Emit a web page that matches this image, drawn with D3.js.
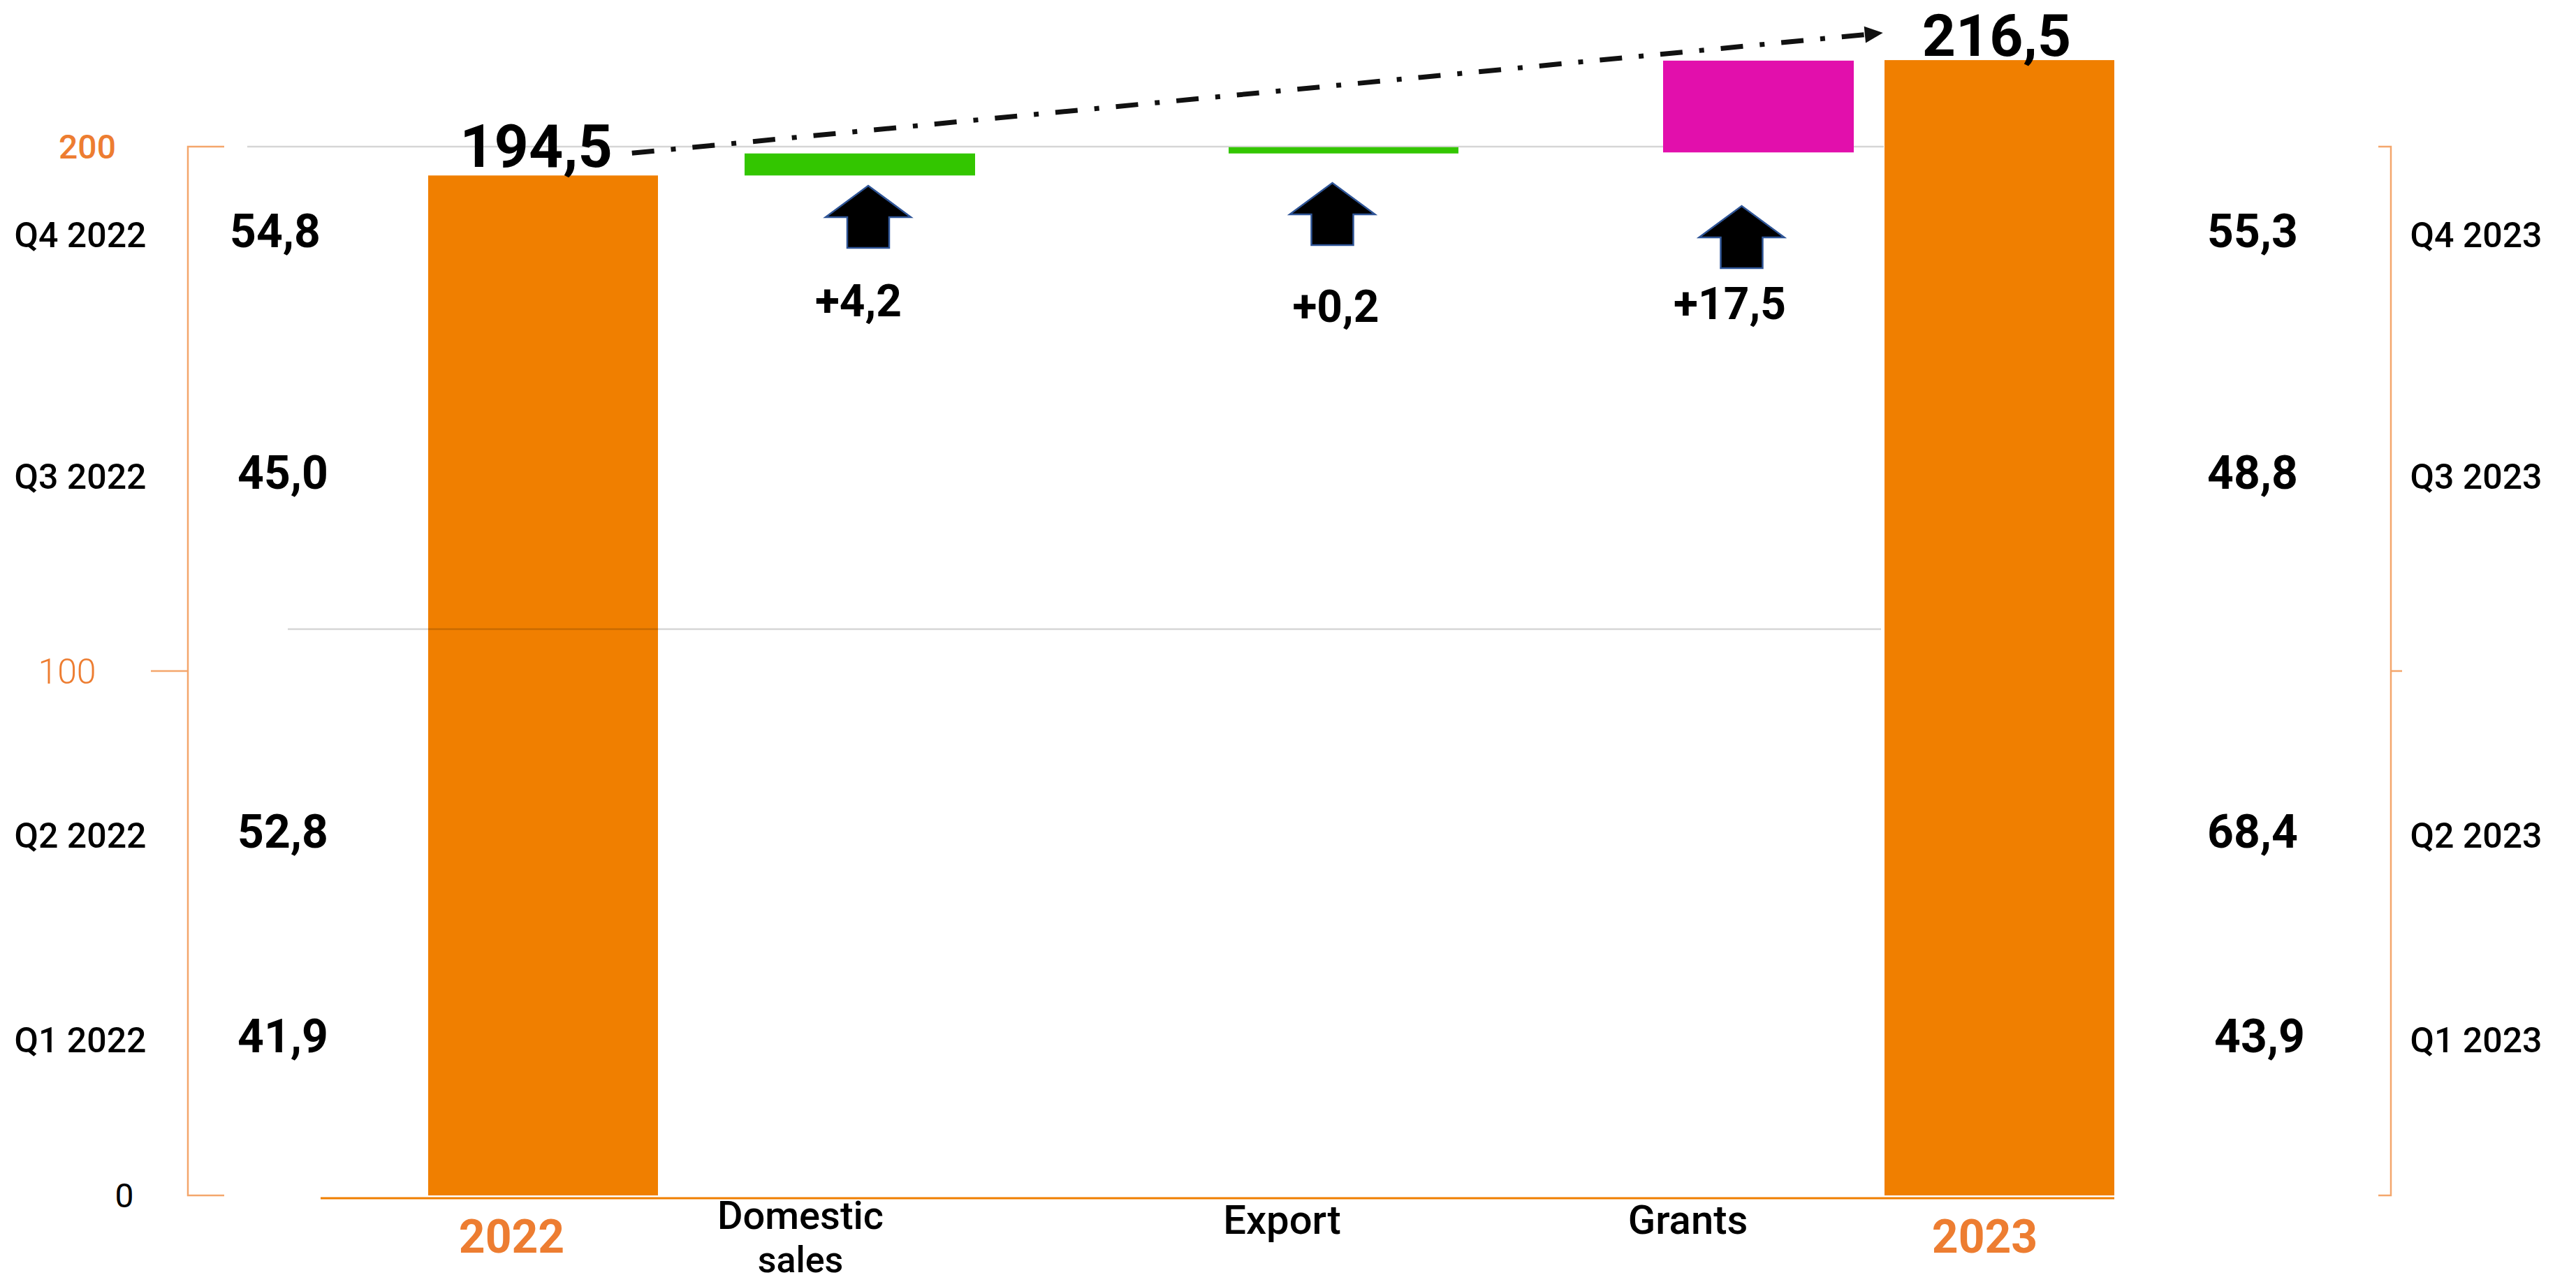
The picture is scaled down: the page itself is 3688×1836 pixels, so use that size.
<!DOCTYPE html>
<html><head><meta charset="utf-8">
<script src="https://cdn.jsdelivr.net/npm/d3@7"></script>
<style>
body{margin:0;background:#fff}
svg{display:block;background:#fff}
text{font-family:Roboto,"Noto Sans","DejaVu Sans",sans-serif}
</style>
</head><body>
<svg id="chart" width="3688" height="1836"></svg>
<script>
// ---------------- DATA ----------------
const categories = ["2022", "Domestic sales", "Export", "Grants", "2023"];
const startTotal = 194.5;
const endTotal = 216.5;
const changeCategories = ["Domestic sales", "Export", "Grants"];
const changeValues = [4.2, 0.2, 17.5];
const quarters2022 = ["Q1 2022", "Q2 2022", "Q3 2022", "Q4 2022"];
const quarterValues2022 = [41.9, 52.8, 45.0, 54.8];
const quarters2023 = ["Q1 2023", "Q2 2023", "Q3 2023", "Q4 2023"];
const quarterValues2023 = [43.9, 68.4, 48.8, 55.3];
const yTicks = [0, 100, 200];
const gridValues = [108, 200];

// ---------------- LAYOUT ----------------
const W = 3688, H = 1836;
const svg = d3.select("#chart");
const y = d3.scaleLinear().domain([0, 200]).range([1712, 210]);
const x = d3.scaleLinear().domain(d3.range(categories.length)).range([777.5, 1231, 1923.5, 2517.5, 2862.5]);
const barW = d3.scaleOrdinal().domain(categories).range([329, 330, 329, 273, 329]);
const cx = c => x(categories.indexOf(c));

const fmt = d3.formatLocale({decimal: ",", thousands: " ", grouping: [3], currency: ["", ""]});
const f1 = fmt.format(".1f");
const fp = fmt.format("+.1f");

const ORANGE = "#F07F00", ORANGE_TXT = "#ED7D31", BRACKET = "#F4A66C";
const GREEN = "#33C600", PINK = "#E20FAC";

// waterfall records
let run = startTotal;
const bars = [{cat: "2022", y0: 0, y1: startTotal, color: ORANGE}];
changeCategories.forEach((c, i) => {
  const v = changeValues[i];
  bars.push({cat: c, y0: run, y1: run + v, color: c === "Grants" ? PINK : GREEN, change: v});
  run += v;
});
bars.push({cat: "2023", y0: 0, y1: endTotal, color: ORANGE});

// ---------------- GRID (under bars) ----------------
svg.append("line")
  .attr("x1", 354).attr("x2", 2697)
  .attr("y1", y(gridValues[1])).attr("y2", y(gridValues[1]))
  .attr("stroke", "#d6d6d6").attr("stroke-width", 2.5);

// ---------------- BARS ----------------
const minH = 9;
svg.append("g").selectAll("rect").data(bars).join("rect")
  .attr("x", d => cx(d.cat) - barW(d.cat) / 2)
  .attr("width", d => barW(d.cat))
  .attr("y", d => {
    const top = y(Math.max(d.y0, d.y1)), bot = y(Math.min(d.y0, d.y1));
    return (bot - top < minH) ? bot - minH : top;
  })
  .attr("height", d => Math.max(minH, Math.abs(y(d.y0) - y(d.y1))))
  .attr("fill", d => d.color);

// lower gridline drawn over the 2022 bar
svg.append("line")
  .attr("x1", 412).attr("x2", 2693)
  .attr("y1", y(gridValues[0])).attr("y2", y(gridValues[0]))
  .attr("stroke", "rgba(0,0,0,0.16)").attr("stroke-width", 2.5);

// orange baseline
svg.append("line")
  .attr("x1", 459).attr("x2", 3027)
  .attr("y1", y(0) + 4).attr("y2", y(0) + 4)
  .attr("stroke", ORANGE).attr("stroke-width", 3);

// ---------------- BRACKET AXES ----------------
const bL = 269, bR = 3423;
svg.append("path")
  .attr("d", `M321,${y(200)}H${bL}V${y(0)}H321M${bL},${y(100)}H216`)
  .attr("fill", "none").attr("stroke", BRACKET).attr("stroke-width", 2.5);
svg.append("path")
  .attr("d", `M3405,${y(200)}H${bR}V${y(0)}H3405M${bR},${y(100)}H3439`)
  .attr("fill", "none").attr("stroke", BRACKET).attr("stroke-width", 2.5);

const tickStyle = {
  0:   {x: 178, fill: "#000", weight: 400, size: 48},
  100: {x: 96,  fill: ORANGE_TXT, weight: 300, size: 50},
  200: {x: 125, fill: ORANGE_TXT, weight: 500, size: 48}
};
svg.append("g").selectAll("text").data(yTicks).join("text")
  .attr("x", d => tickStyle[d].x)
  .attr("y", d => y(d) + tickStyle[d].size * 0.355)
  .attr("text-anchor", "middle")
  .attr("font-size", d => tickStyle[d].size)
  .attr("font-weight", d => tickStyle[d].weight)
  .attr("fill", d => tickStyle[d].fill)
  .text(d => d);

// ---------------- QUARTER LABELS ----------------
const rowBase = [1507, 1214, 700, 354];
const qg = svg.append("g");
qg.selectAll("text.ql").data(quarters2022).join("text").attr("class", "ql")
  .attr("x", 115).attr("y", (d, i) => rowBase[i]).attr("text-anchor", "middle")
  .attr("font-size", 50).attr("font-weight", 500).attr("fill", "#000").text(d => d);
qg.selectAll("text.qv").data(quarterValues2022).join("text").attr("class", "qv")
  .attr("x", (d, i) => i === 3 ? 394 : 405).attr("y", (d, i) => rowBase[i]).attr("text-anchor", "middle")
  .attr("font-size", 66).attr("font-weight", 700).attr("fill", "#000").text(d => f1(d));
qg.selectAll("text.rl").data(quarters2023).join("text").attr("class", "rl")
  .attr("x", 3545).attr("y", (d, i) => rowBase[i]).attr("text-anchor", "middle")
  .attr("font-size", 50).attr("font-weight", 500).attr("fill", "#000").text(d => d);
qg.selectAll("text.rv").data(quarterValues2023).join("text").attr("class", "rv")
  .attr("x", (d, i) => i === 0 ? 3235 : 3225).attr("y", (d, i) => rowBase[i]).attr("text-anchor", "middle")
  .attr("font-size", 66).attr("font-weight", 700).attr("fill", "#000").text(d => f1(d));

// ---------------- TOTAL LABELS ----------------
const t1 = svg.append("text")
  .attr("x", cx("2022") - 10).attr("y", y(startTotal) - 12)
  .attr("text-anchor", "middle").attr("font-size", 86).attr("font-weight", 700)
  .attr("fill", "#000").text(f1(startTotal));
const t2 = svg.append("text")
  .attr("x", cx("2023") - 4).attr("y", y(endTotal) - 6)
  .attr("text-anchor", "middle").attr("font-size", 84).attr("font-weight", 700)
  .attr("fill", "#000").text(f1(endTotal));

// dash-dot trend arrow
const b1 = t1.node().getBBox(), b2 = t2.node().getBBox();
const sx = b1.x + b1.width + 28, sy = y(startTotal) - 12 - 20;
const ex = b2.x - 56, ey = y(endTotal) - 6 - 33;
const ang = Math.atan2(ey - sy, ex - sx);
const headL = 26, headW = 24;
const bx = ex - headL * Math.cos(ang), by = ey - headL * Math.sin(ang);
svg.append("path")
  .attr("d", d3.line()([[sx, sy], [bx, by]]))
  .attr("stroke", "#111").attr("stroke-width", 7)
  .attr("stroke-dasharray", "32 24 7 24").attr("fill", "none");
const px = -Math.sin(ang), py = Math.cos(ang);
svg.append("path")
  .attr("d", d3.line()([[ex, ey], [bx + px * headW / 2, by + py * headW / 2], [bx - px * headW / 2, by - py * headW / 2]]) + "Z")
  .attr("fill", "#111");

// ---------------- UP ARROWS + CHANGE LABELS ----------------
const arrowDx = {"Domestic sales": 12, "Export": -16, "Grants": -24};
const arrowTop = {"Domestic sales": 266, "Export": 262, "Grants": 295};
const labDx = {"Domestic sales": -2, "Export": -11, "Grants": -41};
const labBase = {"Domestic sales": 453, "Export": 461, "Grants": 457};
const chg = bars.filter(d => d.change !== undefined);
svg.append("g").selectAll("path").data(chg).join("path")
  .attr("d", d => {
    const c = cx(d.cat) + arrowDx[d.cat], t = arrowTop[d.cat];
    return d3.line()([[c, t], [c + 61, t + 45], [c + 30, t + 45], [c + 30, t + 89],
      [c - 30, t + 89], [c - 30, t + 45], [c - 61, t + 45]]) + "Z";
  })
  .attr("fill", "#000").attr("stroke", "#2F5597").attr("stroke-width", 2.5);
svg.append("g").selectAll("text").data(chg).join("text")
  .attr("x", d => cx(d.cat) + labDx[d.cat]).attr("y", d => labBase[d.cat])
  .attr("text-anchor", "middle").attr("font-size", 64).attr("font-weight", 700)
  .attr("fill", "#000").text(d => fp(d.change));

// ---------------- CATEGORY LABELS ----------------
const catDx = {"2022": -45, "Domestic sales": -85, "Export": -88, "Grants": -101, "2023": -21};
const cg = svg.append("g");
categories.forEach(c => {
  const xx = cx(c) + catDx[c];
  if (c === "2022" || c === "2023") {
    cg.append("text").attr("x", xx).attr("y", 1794).attr("text-anchor", "middle")
      .attr("font-size", 66).attr("font-weight", 700).attr("fill", ORANGE_TXT).text(c);
  } else if (c === "Domestic sales") {
    cg.append("text").attr("x", xx).attr("y", 1760).attr("text-anchor", "middle")
      .attr("font-size", 56).attr("font-weight", 500).attr("fill", "#000").text("Domestic");
    cg.append("text").attr("x", xx).attr("y", 1822).attr("text-anchor", "middle")
      .attr("font-size", 52).attr("font-weight", 500).attr("fill", "#000").text("sales");
  } else {
    cg.append("text").attr("x", xx).attr("y", 1767).attr("text-anchor", "middle")
      .attr("font-size", 58).attr("font-weight", 500).attr("fill", "#000").text(c);
  }
});
</script>
</body></html>
